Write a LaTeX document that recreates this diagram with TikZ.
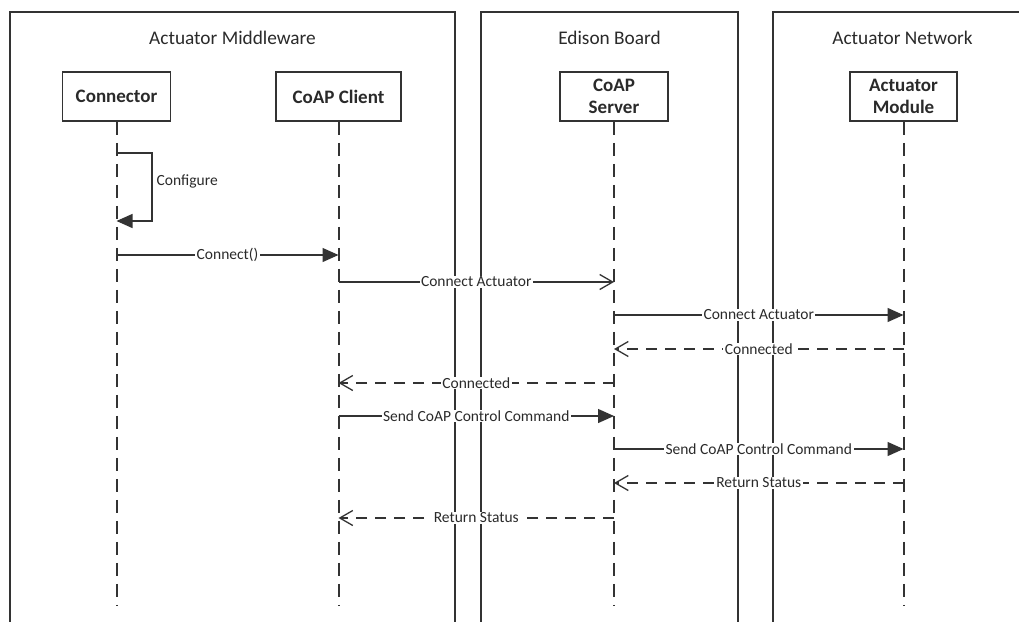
\documentclass[tikz,border=0pt]{standalone}
\usepackage{fontspec}
\setmainfont{Carlito}
\usetikzlibrary{arrows.meta,calc}
\definecolor{ink}{HTML}{333333}
\definecolor{txt}{HTML}{2A2A2A}
\begin{document}
\begin{tikzpicture}[x=1pt,y=-1pt,
  frame/.style={draw=ink,line width=1.4pt},
  title/.style={text=txt,font=\fontsize{19.3}{21}\selectfont},
  actor/.style={draw=ink,line width=1.9pt,fill=white,minimum height=49pt,inner sep=0pt,
    align=center,font=\bfseries\fontsize{19}{22}\selectfont,text=txt},
  lifeline/.style={draw=ink,line width=2pt,dash pattern=on 13pt off 8pt},
  msg/.style={draw=ink,line width=1.3pt},
  reply/.style={msg,dash pattern=on 11pt off 8pt},
  filled/.style={-{Triangle[length=16pt,width=14pt]}},
  openhead/.style={-{Straight Barb[length=13pt,width=15pt]}},
  lbl/.style={fill=white,inner xsep=1.5pt,inner ysep=0.5pt,text=txt,font=\fontsize{15.5}{16}\selectfont}
]
\clip (0,0) rectangle (1019,621);
\fill[white] (0,0) rectangle (1019,621);

% swimlane frames, open past the lower edge
\draw[frame] (10,660) -- (10,12) -- (455,12) -- (455,660);
\draw[frame] (481,660) -- (481,12) -- (738,12) -- (738,660);
\draw[frame] (773,660) -- (773,12) -- (1032,12) -- (1032,660);

\node[title] (tmw) at (232.5,38) {Actuator Middleware};
\node[title] (teb) at (609.5,38) {Edison Board};
\node[title] (tan) at (902.5,38) {Actuator Network};

% participants
\node[actor,minimum width=108pt] (conn)   at (116.5,96.5) {Connector};
\node[actor,minimum width=125pt] (client) at (338.5,96.5) {CoAP Client};
\node[actor,minimum width=108pt] (server) at (614,96.5) {CoAP\\Server};
\node[actor,minimum width=107pt] (module) at (903.5,96.5) {Actuator\\Module};

% lifelines
\foreach \p in {conn,client,server,module}{
  \coordinate (\p end) at (\p.south |- 0,606);
  \draw[lifeline] (\p.south) -- (\p end);
}

% self call
\coordinate (loopc) at (152,221);
\draw[msg,filled] (conn |- 0,153) -| (loopc) -- (conn |- 0,221);
\node[lbl,fill=none,anchor=west] (cfg) at (155,181) {Configure};

% messages
\draw[msg,filled] (conn |- 0,255) -- node[lbl]{Connect()} (client |- 0,255);
\draw[msg,openhead] (client |- 0,282) -- node[lbl]{Connect Actuator} (server |- 0,282);
\draw[msg,filled] (server |- 0,315) -- node[lbl]{Connect Actuator} (module |- 0,315);
\draw[reply,openhead] (module |- 0,349) -- node[lbl]{Connected} (server |- 0,349);
\draw[reply,openhead] (server |- 0,383) -- node[lbl]{Connected} (client |- 0,383);
\draw[msg,filled] (client |- 0,416) -- node[lbl]{Send CoAP Control Command} (server |- 0,416);
\draw[msg,filled] (server |- 0,449) -- node[lbl]{Send CoAP Control Command} (module |- 0,449);
\draw[reply,openhead] (module |- 0,483) -- node[lbl]{Return Status} (server |- 0,483);
\draw[reply,openhead] (server |- 0,518) -- node[lbl]{Return Status} (client |- 0,518);
\end{tikzpicture}
\end{document}
